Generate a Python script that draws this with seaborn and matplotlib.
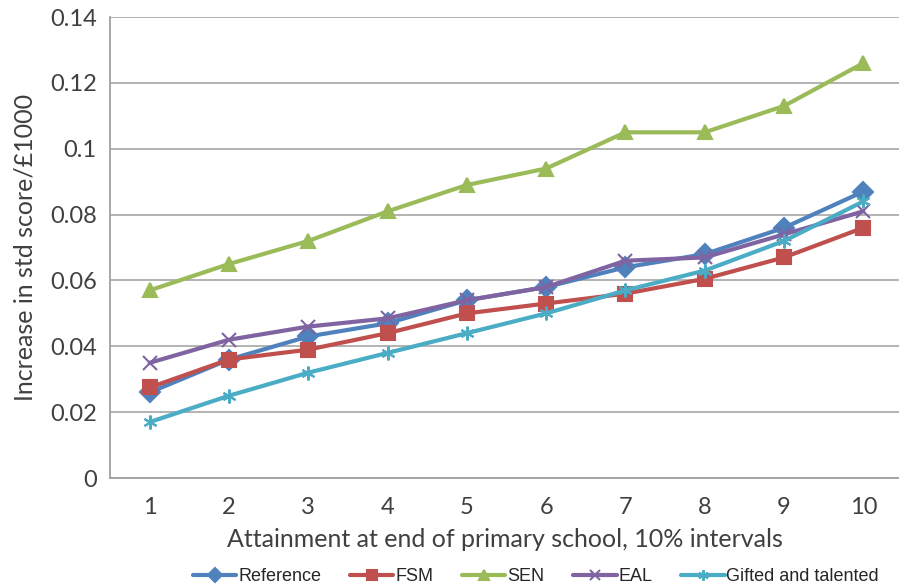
import pandas as pd
import matplotlib.pyplot as plt
import seaborn as sns

# values
deciles = [1, 2, 3, 4, 5, 6, 7, 8, 9, 10]
reference = [0.026, 0.036, 0.043, 0.047, 0.054, 0.058, 0.064, 0.068, 0.076, 0.087]
fsm = [0.0275, 0.036, 0.039, 0.044, 0.050, 0.053, 0.056, 0.0605, 0.067, 0.076]
sen = [0.057, 0.065, 0.072, 0.081, 0.089, 0.094, 0.105, 0.105, 0.113, 0.126]
eal = [0.035, 0.042, 0.046, 0.0485, 0.054, 0.058, 0.066, 0.067, 0.074, 0.081]
gifted = [0.017, 0.025, 0.032, 0.038, 0.044, 0.050, 0.057, 0.063, 0.072, 0.084]

series = ["Reference", "FSM", "SEN", "EAL", "Gifted and talented"]
colors = ["#4F81BD", "#C0504D", "#9BBB59", "#8064A2", "#4BACC6"]
marks = ["D", "s", "^", "x", (6, 2, 0)]

df = pd.DataFrame({
    "decile": deciles * 5,
    "value": reference + fsm + sen + eal + gifted,
    "group": [s for s in series for _ in deciles],
})

sns.set_style("white")
plt.rcParams["font.family"] = ["Lato", "DejaVu Sans"]

fig = plt.figure(figsize=(8.99, 5.88), dpi=100)
ax = fig.add_axes([0.1224, 0.187, 0.8776, 0.784])

# filled and line markers can't be mixed in one call, so one call per series
for name, c, m in zip(series, colors, marks):
    sns.lineplot(data=df[df["group"] == name], x="decile", y="value",
                 color=c, marker=m, markersize=10, markeredgewidth=1.5,
                 markeredgecolor=c, linewidth=3, label=name, ax=ax)

ax.set_xlim(0.5, 10.45)
ax.set_ylim(0, 0.14)
ax.set_xticks(deciles)
ax.set_xticks([d - 0.5 for d in deciles], minor=True)
ax.set_yticks([0, 0.02, 0.04, 0.06, 0.08, 0.1, 0.12, 0.14])
ax.set_yticklabels(["0", "0.02", "0.04", "0.06", "0.08", "0.1", "0.12", "0.14"])
ax.grid(axis="y", color="#ADADAD", linewidth=1.3)
ax.set_axisbelow(True)
for s in ["top", "right"]:
    ax.spines[s].set_visible(False)
for s in ["left", "bottom"]:
    ax.spines[s].set_color("#A0A0A0")
    ax.spines[s].set_linewidth(1.3)
ax.tick_params(axis="x", which="major", length=0, labelsize=17, pad=14, labelcolor="#404040")
ax.tick_params(axis="x", which="minor", length=6, width=1.3, color="#A0A0A0")
ax.tick_params(axis="y", length=6, width=1.3, color="#A0A0A0", labelsize=17, labelcolor="#404040")
ax.set_xlabel("Attainment at end of primary school, 10% intervals", fontsize=18,
              color="#404040", labelpad=7)
ax.set_ylabel("Increase in std score/£1000", fontsize=18, color="#404040", labelpad=10)

ax.legend(loc="upper center", bbox_to_anchor=(0.54, -0.18), ncol=5, frameon=False,
          prop={"family": ["Liberation Sans", "DejaVu Sans"], "size": 13},
          markerscale=0.75, handlelength=2.4, columnspacing=1.6, handletextpad=0.1,
          borderaxespad=0)

fig.savefig("out.png", dpi=100)
